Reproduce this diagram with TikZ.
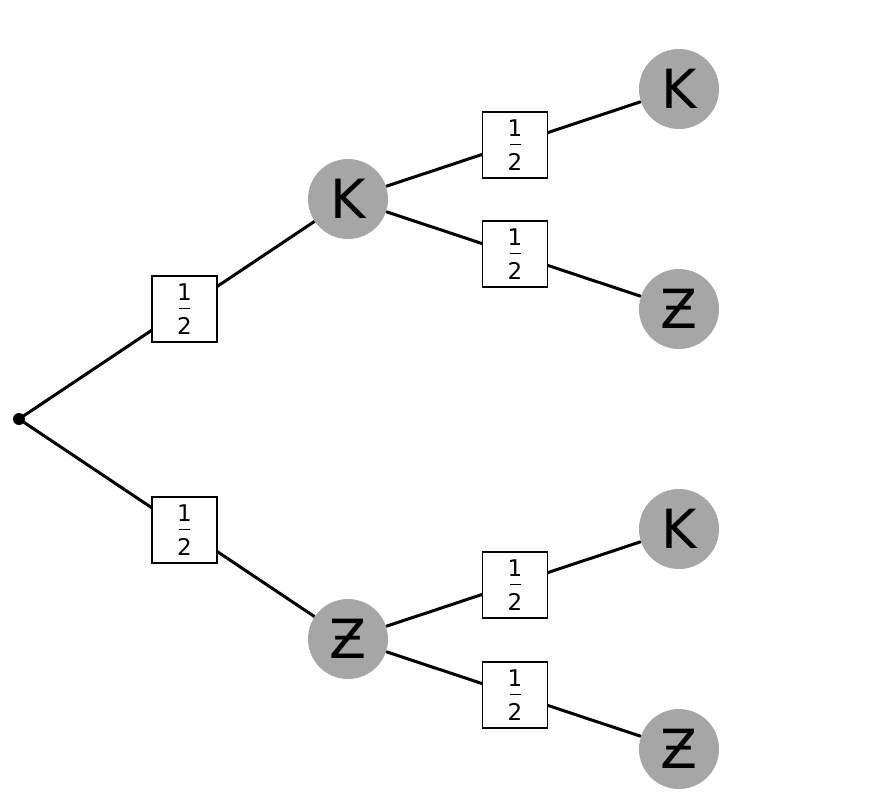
\documentclass[tikz,border=0pt]{standalone}
\usepackage{fontspec}
\setmainfont{DejaVu Sans}
\begin{document}
\begin{tikzpicture}[x=1pt,y=-1pt,
  edge/.style={line width=3pt,black},
  probbox/.style={draw=black,line width=1.5pt,fill=white,minimum width=65pt,minimum height=66pt,inner sep=0pt,font=\fontsize{23}{25}\selectfont},
  outcome/.style={circle,fill=black!35,minimum size=80pt,inner sep=0pt,font=\fontsize{54}{56}\selectfont}]
\useasboundingbox (0,0) rectangle (886,806);
\fill[white] (0,0) rectangle (886,806);
\newcommand{\half}{\shortstack{1\\[4pt]\rule{11pt}{1.3pt}\\[5pt]2}}
% nodes
\coordinate (root) at (19,419);
\node[outcome] (k1) at (348,199) {K};
\node[outcome] (z1) at (348,639) {Ƶ};
\node[outcome] (kk) at (679,89) {K};
\node[outcome] (kz) at (679,309) {Ƶ};
\node[outcome] (zk) at (679,529) {K};
\node[outcome] (zz) at (679,749) {Ƶ};
% edges
\draw[edge] (root) -- (k1);
\draw[edge] (root) -- (z1);
\draw[edge] (k1) -- (kk);
\draw[edge] (k1) -- (kz);
\draw[edge] (z1) -- (zk);
\draw[edge] (z1) -- (zz);
% probability boxes
\node[probbox] (p1) at (184.5,309) {\half};
\node[probbox] (p2) at (184.5,530) {\half};
\node[probbox] (p3) at (515,145) {\half};
\node[probbox] (p4) at (515,254) {\half};
\node[probbox] (p5) at (515,585) {\half};
\node[probbox] (p6) at (515,695) {\half};
\fill[black] (root) circle (6pt);
\end{tikzpicture}
\end{document}
